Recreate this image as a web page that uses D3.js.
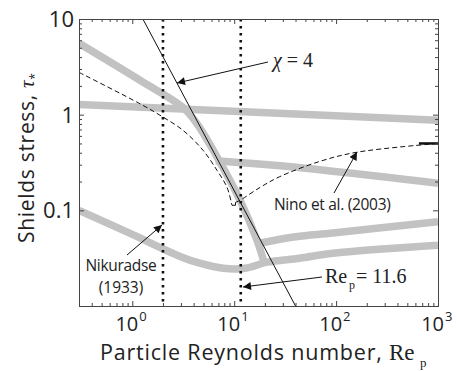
<!DOCTYPE html>
<html>
<head>
<meta charset="utf-8">
<script src="https://cdn.jsdelivr.net/npm/d3@7"></script>
<style>
  body { margin: 0; background: #fff; }
  text { font-family: "Open Sans", sans-serif; fill: #222; }
  .serif { font-family: "Liberation Serif", serif; }
</style>
</head>
<body>
<script>
// values (Re_p, tau*)
const flatRe = [0.3, 1000]
const flatTau = [1.28, 0.875]

const upperRe = [0.3, 1.19, 3.14, 4.3, 6.8, 11.4, 16.7, 19.6]
const upperTau = [5.57, 2.29, 1.19, 0.81, 0.36, 0.128, 0.049, 0.029]

const midRe = [6.6, 30, 1000]
const midTau = [0.33, 0.29, 0.192]

const lowRe = [17.2, 40, 93, 1000]
const lowTau = [0.045, 0.053, 0.058, 0.076]

const uRe = [0.3, 1.0, 2.94, 4.6, 7.8, 12.8, 21, 44, 93, 1000]
const uTau = [0.1, 0.056, 0.033, 0.028, 0.0248, 0.0248, 0.0287, 0.0316, 0.0356, 0.0432]

const ninoLeftRe = [0.3, 1.19, 1.87, 3.14, 4.94, 6.78, 8.5, 9.5]
const ninoLeftTau = [2.77, 1.3, 0.986, 0.687, 0.425, 0.262, 0.174, 0.113]
const hookRe = [9.5, 10.3, 10.3]
const hookTau = [0.113, 0.113, 0.121]
const ninoRightRe = [10.3, 11.5, 18, 28, 70, 160, 1000]
const ninoRightTau = [0.121, 0.128, 0.174, 0.225, 0.326, 0.405, 0.5]

const chiRe = [1.27, 40]
const chiTau = [10, 0.01]

const vlines = [2, 11.6]
const xMajor = [1, 10, 100, 1000]
const xExp = ["0", "1", "2", "3"]
const yMajor = [0.01, 0.1, 1, 10]
const yLabels = ["", "0.1", "1", "10"]

const W = 457, H = 371
const svg = d3.select("body").append("svg").attr("width", W).attr("height", H)

const x = d3.scaleLog().domain([0.3, 1000]).range([79, 438])
const y = d3.scaleLog().domain([0.01, 10]).range([306, 19])

const minorOf = (lo, hi) => {
  let out = []
  for (let d = -1; d <= 3; d++) for (let k = 2; k <= 9; k++) {
    let v = k * Math.pow(10, d)
    if (v >= lo && v <= hi) out.push(v)
  }
  return out
}
const xMinor = minorOf(0.3, 1000)
const yMinor = minorOf(0.01, 10)

svg.append("clipPath").attr("id", "clip").append("rect")
  .attr("x", 79).attr("y", 19).attr("width", 359).attr("height", 287)
const area = svg.append("g").attr("clip-path", "url(#clip)")

const line = d3.line().x(d => x(d[0])).y(d => y(d[1])).curve(d3.curveCatmullRom.alpha(0.5))
const straight = d3.line().x(d => x(d[0])).y(d => y(d[1]))
const pairs = (a, b) => a.map((v, i) => [v, b[i]])

// gray bands
const gray = "#c2c2c2"
;[[flatRe, flatTau], [upperRe, upperTau], [midRe, midTau], [lowRe, lowTau], [uRe, uTau]].forEach(s => {
  area.append("path").attr("d", line(pairs(s[0], s[1])))
    .attr("fill", "none").attr("stroke", gray).attr("stroke-width", 7.5)
    .attr("stroke-linejoin", "round")
})

// chi = 4 line
area.append("path").attr("d", straight(pairs(chiRe, chiTau)))
  .attr("fill", "none").attr("stroke", "#111").attr("stroke-width", 1)

// Nino et al. dashed
const dashed = (d) => area.append("path").attr("d", d)
  .attr("fill", "none").attr("stroke", "#111").attr("stroke-width", 1).attr("stroke-dasharray", "5,3")
dashed(line(pairs(ninoLeftRe, ninoLeftTau)))
area.append("path").attr("d", straight(pairs(hookRe, hookTau)))
  .attr("fill", "none").attr("stroke", "#111").attr("stroke-width", 1)
dashed(line(pairs(ninoRightRe, ninoRightTau)))
area.append("line").attr("x1", x(650)).attr("x2", x(1000)).attr("y1", y(0.5)).attr("y2", y(0.5))
  .attr("stroke", "#111").attr("stroke-width", 2.5)

// dotted verticals
vlines.forEach(v => {
  area.append("line").attr("x1", x(v)).attr("x2", x(v)).attr("y1", 19).attr("y2", 306)
    .attr("stroke", "#111").attr("stroke-width", 2.6).attr("stroke-dasharray", "2.6,4.4")
})

// axes box with inward ticks
const axisCol = "#444"
const addAxis = (gen, tx, ty, vals, size) => {
  svg.append("g").attr("transform", `translate(${tx},${ty})`)
    .call(gen.tickValues(vals).tickSize(size).tickFormat(""))
    .call(g => g.selectAll("line").attr("stroke", axisCol))
    .call(g => g.select(".domain").attr("stroke", axisCol))
}
addAxis(d3.axisBottom(x), 0, 306, xMajor, -5)
addAxis(d3.axisBottom(x), 0, 306, xMinor, -3)
addAxis(d3.axisTop(x), 0, 19, xMajor, -5)
addAxis(d3.axisTop(x), 0, 19, xMinor, -3)
addAxis(d3.axisLeft(y), 79, 0, yMajor, -5)
addAxis(d3.axisLeft(y), 79, 0, yMinor, -3)
addAxis(d3.axisRight(y), 438, 0, yMajor, -5)
addAxis(d3.axisRight(y), 438, 0, yMinor, -3)

// tick labels
xMajor.forEach((v, i) => {
  svg.append("text").attr("x", x(v) + 6).attr("y", 331)
    .attr("text-anchor", "end").attr("font-size", 20).text("10")
  svg.append("text").attr("x", x(v) + 7).attr("y", 321)
    .attr("font-size", 13).text(xExp[i])
})
yMajor.forEach((v, i) => {
  svg.append("text").attr("x", 74).attr("y", y(v) + 8)
    .attr("text-anchor", "end").attr("font-size", 22).text(yLabels[i])
})

// axis titles
const xt = svg.append("text").attr("x", 100).attr("y", 360).attr("font-size", 21.5)
  .attr("letter-spacing", 0.8)
xt.append("tspan").text("Particle Reynolds number, ")
xt.append("tspan").attr("class", "serif").attr("font-size", 23).attr("letter-spacing", 0).text("Re")
svg.append("text").attr("class", "serif").attr("x", 420).attr("y", 367).attr("font-size", 13).text("p")

const yt = svg.append("text").attr("transform", "translate(34,243) rotate(-90)").attr("font-size", 21)
  .attr("letter-spacing", 0.7)
yt.append("tspan").text("Shields stress, ")
yt.append("tspan").attr("class", "serif").attr("font-style", "italic").text("τ")
yt.append("tspan").attr("font-size", 12).attr("dy", 5).text("*")

// annotations
svg.append("defs").append("marker").attr("id", "ah")
  .attr("viewBox", "0 0 10 10").attr("refX", 10).attr("refY", 5)
  .attr("markerWidth", 11).attr("markerHeight", 8).attr("markerUnits", "userSpaceOnUse")
  .attr("orient", "auto")
  .append("path").attr("d", "M0,0 L10,5 L0,10 z").attr("fill", "#111")

const arrow = (x1, y1, x2, y2) => svg.append("line")
  .attr("x1", x1).attr("y1", y1).attr("x2", x2).attr("y2", y2)
  .attr("stroke", "#111").attr("stroke-width", 1).attr("marker-end", "url(#ah)")

arrow(268, 62, 177, 83)
const chi = svg.append("text").attr("class", "serif").attr("x", 273).attr("y", 67).attr("font-size", 20)
chi.append("tspan").attr("font-style", "italic").text("χ")
chi.append("tspan").text(" = 4")

arrow(334, 193, 357, 152)
svg.append("text").attr("x", 274).attr("y", 210).attr("font-size", 15.5).attr("letter-spacing", -0.3)
  .text("Nino et al. (2003)")

arrow(127, 255, 162, 225)
svg.append("text").attr("x", 121).attr("y", 271).attr("text-anchor", "middle").attr("font-size", 15.5)
  .attr("letter-spacing", -0.3).text("Nikuradse")
svg.append("text").attr("x", 121).attr("y", 293).attr("text-anchor", "middle").attr("font-size", 15.5)
  .text("(1933)")

arrow(322, 277, 243, 287)
svg.append("text").attr("class", "serif").attr("x", 325).attr("y", 283).attr("font-size", 20).text("Re")
svg.append("text").attr("class", "serif").attr("x", 349).attr("y", 289).attr("font-size", 12).text("p")
svg.append("text").attr("class", "serif").attr("x", 356).attr("y", 283).attr("font-size", 20).text("= 11.6")
</script>
</body>
</html>
